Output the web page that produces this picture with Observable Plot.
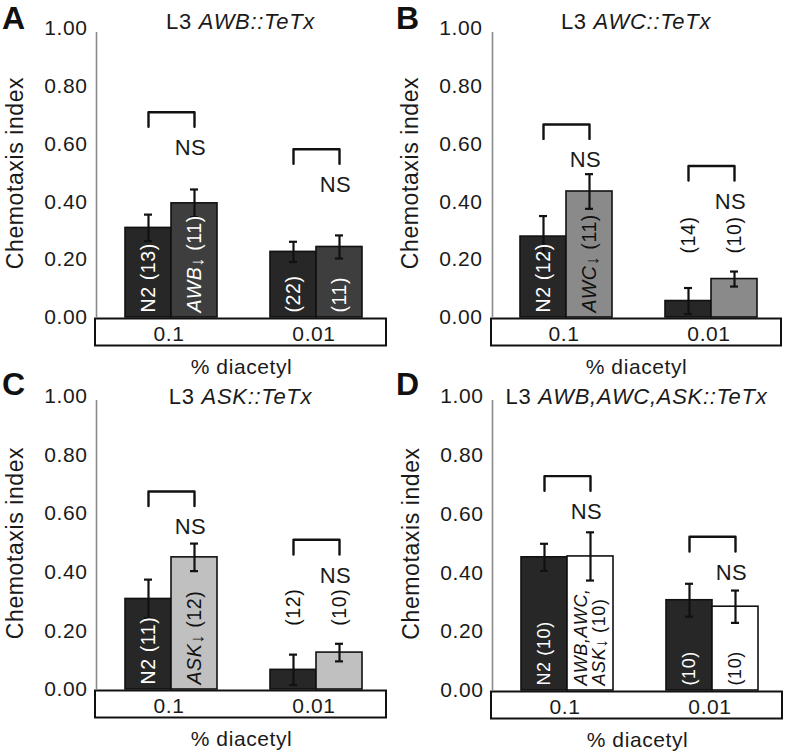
<!DOCTYPE html>
<html><head><meta charset="utf-8">
<script src="https://cdn.jsdelivr.net/npm/d3@7"></script>
<script src="https://cdn.jsdelivr.net/npm/@observablehq/plot@0.6"></script>
<style>
body{margin:0;background:#fff;font-family:"Liberation Sans",Arial,sans-serif;color:#1a1a1a;}
#fig{position:relative;width:788px;height:755px;overflow:hidden;background:#fff;}
.panel{position:absolute;}
.letter{position:absolute;font-weight:bold;font-size:32px;line-height:1;color:#111;}
.title{position:absolute;font-size:22px;white-space:nowrap;transform:translate(-50%,-50%);letter-spacing:0.7px;}
</style></head><body><div id="fig"></div>
<script>
// ---- data ----
const concentrations = ["0.1", "0.01"];
const panelLetters = ["A", "B", "C", "D"];
const panelTitles = ["AWB::TeTx", "AWC::TeTx", "ASK::TeTx", "AWB,AWC,ASK::TeTx"];
const mutantNames = ["AWB", "AWC", "ASK", "AWB,AWC,\nASK"];
// values per panel: [0.1 %, 0.01 %]
const n2Means  = [[0.310, 0.227], [0.280, 0.057], [0.309, 0.067], [0.453, 0.307]];
const n2Errs   = [[0.046, 0.035], [0.071, 0.045], [0.066, 0.052], [0.046, 0.056]];
const n2N      = [[13, 22], [12, 14], [11, 12], [10, 10]];
const mutMeans = [[0.395, 0.244], [0.436, 0.133], [0.451, 0.126], [0.456, 0.285]];
const mutErrs  = [[0.048, 0.040], [0.060, 0.026], [0.047, 0.030], [0.082, 0.055]];
const mutN     = [[11, 11], [11, 10], [12, 10], [10, 10]];
const bracketY = [[0.710, 0.582], [0.668, 0.524], [0.676, 0.511], [0.729, 0.523]];
const yTicks = [0, 0.2, 0.4, 0.6, 0.8, 1.0];

// ---- styles ----
const n2Color = "#272727";
const mutantColors = ["#3e3e3e", "#8a8a8a", "#c0c0c0", "#ffffff"];
const mutantTextDark = [false, true, true, true];
const FONT = '"Liberation Sans", Arial, sans-serif';

const layouts = [
  {left: 0,   top: 0,   height: 385, mt: 28, mb: 68, ml: 95, mr: 8},
  {left: 394, top: 0,   height: 385, mt: 28, mb: 68, ml: 97, mr: 7},
  {left: 0,   top: 375, height: 385, mt: 21, mb: 71, ml: 95, mr: 8},
  {left: 394, top: 375, height: 385, mt: 21, mb: 70, ml: 97, mr: 6}
];

const fig = document.getElementById("fig");

function richify(svg) {
  d3.select(svg).selectAll("g.rich text").each(function() {
    const tspans = d3.select(this).selectAll("tspan");
    const targets = tspans.empty() ? [this] : tspans.nodes();
    targets.forEach(node => {
      const s = node.textContent;
      const sel = d3.select(node);
      if (s.includes("\u2193")) {
        const [name, rest] = s.split("\u2193");
        node.textContent = "";
        sel.append("tspan").attr("font-style", "italic").text(name);
        sel.append("tspan").attr("font-size", "0.95em").attr("baseline-shift", "-12%").text("\u2193");
        sel.append("tspan").text(rest);
      } else if (s.trim().endsWith(",")) {
        sel.attr("font-style", "italic");
      }
    });
  });
}

panelLetters.forEach((letter, i) => {
  const L = layouts[i];
  const rows = [];
  concentrations.forEach((c, j) => {
    const groupMin = Math.min(n2Means[i][j], mutMeans[i][j]);
    const groupTop = Math.max(n2Means[i][j] + n2Errs[i][j], mutMeans[i][j] + mutErrs[i][j]);
    const inside = groupMin >= 0.15;
    rows.push({conc: c, strain: "N2", mean: n2Means[i][j], err: n2Errs[i][j],
      label: j === 0 ? `N2 (${n2N[i][j]})` : `(${n2N[i][j]})`,
      inside, groupTop, dark: !inside});
    rows.push({conc: c, strain: "mut", mean: mutMeans[i][j], err: mutErrs[i][j],
      label: j === 0 ? `${mutantNames[i]}\u2193 (${mutN[i][j]})` : `(${mutN[i][j]})`,
      inside, groupTop, dark: !inside || mutantTextDark[i]});
  });
  const brackets = [];
  concentrations.forEach((c, j) => {
    const b = bracketY[i][j];
    brackets.push({conc: c, strain: "N2", y: b - 0.05});
    brackets.push({conc: c, strain: "N2", y: b});
    brackets.push({conc: c, strain: "mut", y: b});
    brackets.push({conc: c, strain: "mut", y: b - 0.05});
  });
  const groups = concentrations.map((c, j) => ({conc: c, y: bracketY[i][j]}));

  const labelOpts = (extra) => ({
    fx: "conc", x: "strain",
    text: "label", rotate: -90, textAnchor: "start", lineAnchor: "middle",
    fontSize: i === 3 ? 18 : 19.5, ...extra
  });

  const plot = Plot.plot({
    width: 394, height: L.height,
    marginTop: L.mt, marginBottom: L.mb, marginLeft: L.ml, marginRight: L.mr,
    style: {fontFamily: FONT, fontSize: "21px", background: "transparent", color: "#1a1a1a", letterSpacing: "0.6px", overflow: "visible"},
    fx: {domain: concentrations, padding: 0},
    x: {domain: ["N2", "mut"], paddingInner: 0, paddingOuter: 0.548, align: 0.55, axis: null},
    y: {domain: [0, 1]},
    color: {domain: ["N2", "mut"], range: [n2Color, mutantColors[i]]},
    marks: [
      Plot.axisY({ticks: yTicks, tickFormat: d3.format(".2f"), tickSize: 0, tickPadding: 9,
        stroke: "#8a8a8a", fill: "#1a1a1a", fontSize: 21,
        label: null}),
      Plot.axisY({ticks: [], tickSize: 0, fontSize: 23, fill: "#1a1a1a", stroke: "none",
        label: "Chemotaxis index", labelAnchor: "center", labelOffset: 90, labelArrow: false}),
      Plot.axisFx({anchor: "bottom", tickSize: 0, tickPadding: 9, fontSize: 21,
        label: "% diacetyl", labelAnchor: "center", labelOffset: 56, labelArrow: false}),
      Plot.barY(rows, {fx: "conc", x: "strain", y: "mean", fill: "strain", stroke: "#111", strokeWidth: 1.6}),
      Plot.ruleX(rows, {fx: "conc", x: "strain", y1: d => d.mean - d.err, y2: d => d.mean + d.err, stroke: "#111", strokeWidth: 2.2}),
      Plot.tickY(rows, {fx: "conc", x: "strain", y: d => d.mean - d.err, insetLeft: 19, insetRight: 19, stroke: "#111", strokeWidth: 2.2}),
      Plot.tickY(rows, {fx: "conc", x: "strain", y: d => d.mean + d.err, insetLeft: 19, insetRight: 19, stroke: "#111", strokeWidth: 2.2}),
      Plot.line(brackets, {fx: "conc", x: "strain", y: "y", stroke: "#111", strokeWidth: 2.4, curve: "linear"}),
      Plot.text(groups, {fx: "conc", x: () => "mut", y: "y", dy: 36, dx: -4, text: () => "NS", fontSize: 22, fill: "#1a1a1a"}),
      Plot.text(rows.filter(d => d.inside && !d.dark), labelOpts({y: () => 0, dy: -5, fill: "#ffffff", className: "rich"})),
      Plot.text(rows.filter(d => d.inside && d.dark), labelOpts({y: () => 0, dy: -5, fill: "#111111", className: "rich"})),
      Plot.text(rows.filter(d => !d.inside), labelOpts({y: "groupTop", dy: -18, fill: "#111111", className: "rich"}))
    ]
  });

  const svg = plot.tagName.toLowerCase() === "svg" ? plot : plot.querySelector("svg");
  richify(svg);

  // x-axis box spanning the facet range, below the zero line; grey y-axis line
  const fxRange = plot.scale("fx").range;
  const yScale = plot.scale("y");
  const y0 = yScale.apply(0);
  const y1 = yScale.apply(yTicks[yTicks.length - 1]);
  d3.select(svg).insert("rect", ":first-child")
    .attr("x", fxRange[0]).attr("y", y0 + 1.5)
    .attr("width", fxRange[1] - fxRange[0]).attr("height", 27)
    .attr("fill", "#fff").attr("stroke", "#111").attr("stroke-width", 2);
  d3.select(svg).append("line")
    .attr("x1", fxRange[0] + 1.5).attr("x2", fxRange[0] + 1.5)
    .attr("y1", y1 + 4).attr("y2", y0)
    .attr("stroke", "#8a8a8a").attr("stroke-width", 1.6);

  const panel = document.createElement("div");
  panel.className = "panel";
  panel.style.left = L.left + "px";
  panel.style.top = L.top + "px";
  panel.appendChild(plot);
  fig.appendChild(panel);

  const title = document.createElement("div");
  title.className = "title";
  title.innerHTML = `L3 <i>${panelTitles[i]}</i>`;
  title.style.left = (L.left + (fxRange[0] + fxRange[1]) / 2) + "px";
  title.style.top = (L.top + 22) + "px";
  fig.appendChild(title);

  const lt = document.createElement("div");
  lt.className = "letter";
  lt.textContent = letter;
  lt.style.left = (L.left + 2) + "px";
  lt.style.top = (L.top + (i < 2 ? 2 : -7)) + "px";
  fig.appendChild(lt);
});
</script>
</body></html>
